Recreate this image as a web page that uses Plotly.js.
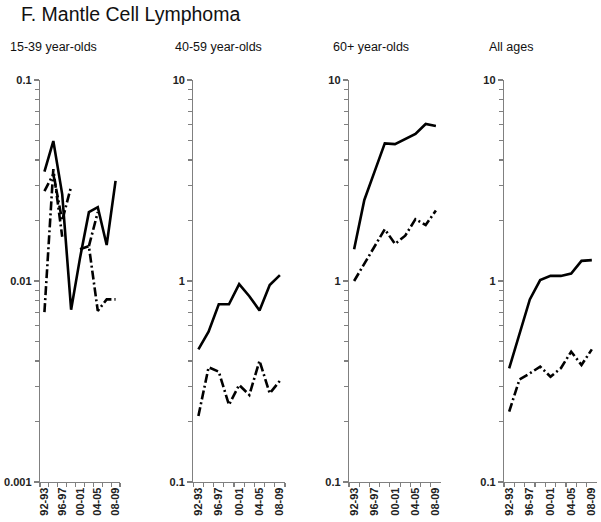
<!DOCTYPE html>
<html><head><meta charset="utf-8">
<script src="https://cdn.plot.ly/plotly-3.0.1.min.js"></script>
<style>html,body{margin:0;padding:0;background:#fff}#c{width:601px;height:522px}</style>
</head><body><div id="c"></div>
<script>
const categories = ["92-93","94-95","96-97","98-99","00-01","02-03","04-05","06-07","08-09"];
const shownLabels = ["92-93","96-97","00-01","04-05","08-09"];
const panelTitles = ["15-39 year-olds","40-59 year-olds","60+ year-olds","All ages"];

// 15-39 year-olds
const young_solid = [0.035, 0.0497, 0.027, 0.0072, 0.013, 0.022, 0.0233, 0.0151, 0.0315];
const young_dashA = [0.028, 0.034, 0.020, 0.0295, null, 0.0149, 0.022, null, null];
const young_dashB = [0.007, 0.036, 0.0166, null, 0.0144, 0.0149, 0.0071, 0.0081, 0.0081];
// 40-59 year-olds
const mid_solid = [0.457, 0.56, 0.766, 0.766, 0.964, 0.84, 0.714, 0.955, 1.07];
const mid_dash  = [0.213, 0.372, 0.354, 0.242, 0.304, 0.271, 0.401, 0.276, 0.319];
// 60+ year-olds
const old_solid = [1.44, 2.53, 3.5, 4.84, 4.8, 5.07, 5.39, 6.04, 5.9];
const old_dash  = [1.0, 1.22, 1.48, 1.81, 1.53, 1.68, 2.03, 1.90, 2.24];
// All ages
const all_solid = [0.368, 0.551, 0.81, 1.01, 1.06, 1.06, 1.09, 1.26, 1.27];
const all_dash  = [0.224, 0.324, 0.347, 0.375, 0.334, 0.368, 0.445, 0.382, 0.457];

const W = 601, H = 522;
const xpx = [[40,120],[193.3,285],[349,441],[504,597]];
const ytop = 80, ybot = 482;
const ydom = [(H-ybot)/H, (H-ytop)/H];

const solidLine = {color:'#000', width:2.6, dash:'solid'};
const ddLine = {color:'#000', width:2.6, dash:'9px,3px,2px,3px'};

function tr(y, ax, line){
  return {x: categories, y: y, type:'scatter', mode:'lines', line: line,
    xaxis: 'x'+(ax===1?'':ax), yaxis: 'y'+(ax===1?'':ax), connectgaps:false, hoverinfo:'skip'};
}
const data = [
  tr(young_solid,1,solidLine), tr(young_dashA,1,ddLine), tr(young_dashB,1,ddLine),
  tr(mid_solid,2,solidLine), tr(mid_dash,2,ddLine),
  tr(old_solid,3,solidLine), tr(old_dash,3,ddLine),
  tr(all_solid,4,solidLine), tr(all_dash,4,ddLine)
];

const tickFont = {family:'Liberation Sans, Arial, sans-serif', size:11, color:'#222', weight:'bold'};
const grey = '#808080';
const layout = {
  width: W, height: H, margin:{l:0,r:0,t:0,b:0}, showlegend:false,
  paper_bgcolor:'#fff', plot_bgcolor:'#fff',
  annotations: [],
};
for (let i=0;i<4;i++){
  const k = i===0?'':(i+1);
  layout['xaxis'+k] = {
    domain:[xpx[i][0]/W, xpx[i][1]/W], anchor:'y'+k, type:'category',
    categoryorder:'array', categoryarray: categories, range:[-0.5,8.5],
    tickmode:'array', tickvals: categories,
    ticktext: categories.map(c => shownLabels.includes(c) ? c : ''),
    tickson:'boundaries', ticks:'outside', ticklen:4, tickcolor:grey, tickwidth:1.2,
    showline:true, linecolor:grey, linewidth:1.2, showgrid:false, zeroline:false,
    tickangle:-90, tickfont: tickFont, fixedrange:true
  };
  const lo = i===0 ? -3 : -1, hi = i===0 ? -1 : 1;
  const tv = i===0 ? [0.001,0.01,0.1] : [0.1,1,10];
  const tt = i===0 ? ['0.001','0.01','0.1'] : ['0.1','1','10'];
  layout['yaxis'+k] = {
    domain: ydom, anchor:'x'+k, type:'log', range:[lo,hi],
    tickmode:'array', tickvals: tv, ticktext: tt,
    ticks:'outside', ticklen:5, tickcolor:grey, tickwidth:1.2,
    minor:{ticks:'outside', ticklen:4, tickcolor:grey, tickwidth:1.2, dtick:'D1', showgrid:false},
    showline:true, linecolor:grey, linewidth:1.2, showgrid:false, zeroline:false,
    tickfont: tickFont, fixedrange:true
  };
}
const subX = [8, 173, 331, 487];
panelTitles.forEach((t,i)=>{
  layout.annotations.push({text:t, xref:'paper', yref:'paper', x: subX[i]/W, y: 1-47/H,
    xanchor:'left', yanchor:'middle', showarrow:false,
    font:{family:'Liberation Sans, Arial, sans-serif', size:12.5, color:'#111'}});
});
layout.annotations.push({text:'F. Mantle Cell Lymphoma', xref:'paper', yref:'paper', x:19/W, y:1-14/H,
  xanchor:'left', yanchor:'middle', showarrow:false,
  font:{family:'Liberation Sans, Arial, sans-serif', size:19.5, color:'#111'}});

Plotly.newPlot('c', data, layout, {staticPlot:true, displayModeBar:false});
</script></body></html>
